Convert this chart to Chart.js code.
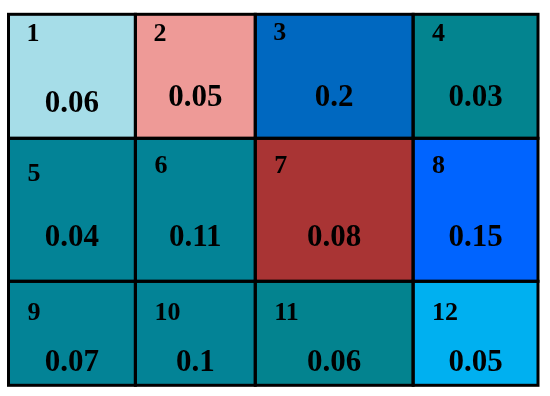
<!DOCTYPE html>
<html>
<head>
<meta charset="utf-8">
<style>
  html, body { margin: 0; padding: 0; background: #ffffff; }
</style>
<script src="https://cdn.jsdelivr.net/npm/chart.js@4.4.0/dist/chart.umd.min.js"></script>
</head>
<body>
<canvas id="grid-chart" width="550" height="396"></canvas>
<script>
// cell data, read left to right, top to bottom
const cellNumbers = ['1', '2', '3', '4', '5', '6', '7', '8', '9', '10', '11', '12'];
const cellValues = [0.06, 0.05, 0.2, 0.03, 0.04, 0.11, 0.08, 0.15, 0.07, 0.1, 0.06, 0.05];
// grid boundaries (axis units)
const colEdges = [0, 127, 247, 405, 530];
const rowEdges = [0, 124, 267, 371];

// styling
const cellColors = [
    '#a6dde8', '#ee9a97', '#0068c0', '#03848f',
    '#038396', '#038396', '#a93434', '#0064ff',
    '#038396', '#038396', '#03838f', '#00b0f0'
];
// text offsets inside each cell (px)
const numDx = [18, 18, 18, 19, 19, 19, 19, 19, 19, 19, 19, 19];
const numDy = [27, 27, 26, 27, 43, 35, 35, 35, 39, 39, 39, 39];
const valDy = [98, 92, 92, 92, 108, 108, 108, 108, 90, 90, 90, 90];

const ncols = colEdges.length - 1;

// centers of each cell, used as data points
const centers = cellValues.map((v, i) => {
    const r = Math.floor(i / ncols), c = i % ncols;
    return { x: (colEdges[c] + colEdges[c + 1]) / 2, y: (rowEdges[r] + rowEdges[r + 1]) / 2 };
});

const gridPlugin = {
    id: 'gridCells',
    afterDatasetsDraw(chart) {
        const ctx = chart.ctx;
        const xs = chart.scales.x, ys = chart.scales.y;
        ctx.save();
        cellValues.forEach((v, i) => {
            const r = Math.floor(i / ncols), c = i % ncols;
            const x0 = xs.getPixelForValue(colEdges[c]);
            const x1 = xs.getPixelForValue(colEdges[c + 1]);
            const y0 = ys.getPixelForValue(rowEdges[r]);
            const y1 = ys.getPixelForValue(rowEdges[r + 1]);
            ctx.fillStyle = cellColors[i];
            ctx.fillRect(x0, y0, x1 - x0, y1 - y0);
        });
        ctx.strokeStyle = '#000000';
        ctx.lineWidth = 3;
        cellValues.forEach((v, i) => {
            const r = Math.floor(i / ncols), c = i % ncols;
            const x0 = xs.getPixelForValue(colEdges[c]);
            const x1 = xs.getPixelForValue(colEdges[c + 1]);
            const y0 = ys.getPixelForValue(rowEdges[r]);
            const y1 = ys.getPixelForValue(rowEdges[r + 1]);
            ctx.strokeRect(x0, y0, x1 - x0, y1 - y0);

            ctx.fillStyle = '#000000';
            ctx.textBaseline = 'alphabetic';
            ctx.font = 'bold 26px "Liberation Serif", "Times New Roman", serif';
            ctx.textAlign = 'left';
            ctx.fillText(cellNumbers[i], x0 + numDx[i], y0 + numDy[i]);
            ctx.font = 'bold 31px "Liberation Serif", "Times New Roman", serif';
            ctx.textAlign = 'center';
            ctx.fillText(String(v), (x0 + x1) / 2, y0 + valDy[i]);
        });
        ctx.restore();
    }
};

new Chart(document.getElementById('grid-chart').getContext('2d'), {
    type: 'scatter',
    data: {
        datasets: [{
            data: centers,
            pointRadius: 0
        }]
    },
    options: {
        responsive: false,
        animation: false,
        layout: { padding: { left: 8.5, right: 12, top: 14.3, bottom: 10.7 } },
        scales: {
            x: { type: 'linear', min: colEdges[0], max: colEdges[colEdges.length - 1], display: false },
            y: { type: 'linear', min: rowEdges[0], max: rowEdges[rowEdges.length - 1], reverse: true, display: false }
        },
        plugins: {
            legend: { display: false },
            tooltip: { enabled: false }
        }
    },
    plugins: [gridPlugin]
});
</script>
</body>
</html>
